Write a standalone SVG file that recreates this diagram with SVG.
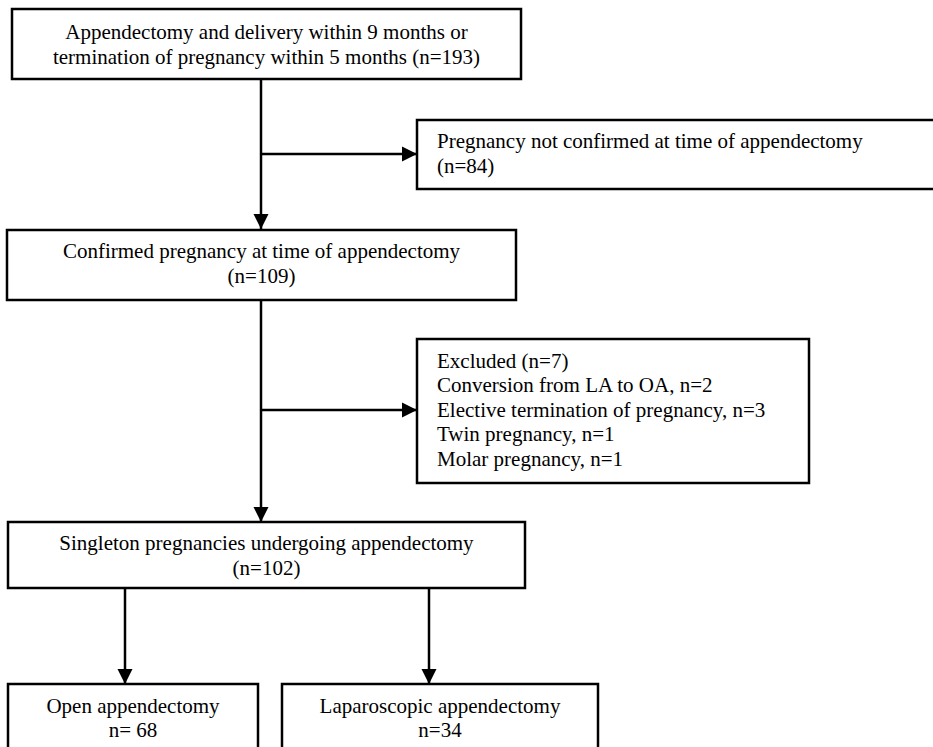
<svg xmlns="http://www.w3.org/2000/svg" width="933" height="747" viewBox="0 0 933 747">
<style>
.box{fill:#fff;stroke:#000;stroke-width:2.5}
.t{font-family:'Liberation Serif','Times New Roman','DejaVu Serif',serif;font-size:21px;fill:#000}
.c{text-anchor:middle}
.ln{stroke:#000;stroke-width:2.5;fill:none}
</style>
<defs>
<marker id="ah" markerUnits="userSpaceOnUse" markerWidth="16" markerHeight="16" refX="15" refY="8" orient="auto">
<path d="M0,0.5 L15,8 L0,15.5 z" fill="#000"/>
</marker>
</defs>
<g id="connectors">
<line class="ln" x1="261" y1="79" x2="261" y2="229" marker-end="url(#ah)"/>
<line class="ln" x1="261" y1="154" x2="417" y2="154" marker-end="url(#ah)"/>
<line class="ln" x1="261" y1="300" x2="261" y2="522" marker-end="url(#ah)"/>
<line class="ln" x1="261" y1="410" x2="417" y2="410" marker-end="url(#ah)"/>
<line class="ln" x1="125" y1="588" x2="125" y2="684" marker-end="url(#ah)"/>
<line class="ln" x1="429" y1="588" x2="429" y2="684" marker-end="url(#ah)"/>
</g>
<g id="n1">
<rect class="box" x="12" y="9" width="509" height="70" stroke-width="3"/>
<text class="t c" x="266.5" y="39" font-family="Liberation Serif, serif">Appendectomy and delivery within 9 months or</text>
<text class="t c" x="266.5" y="64" font-family="Liberation Serif, serif">termination of pregnancy within 5 months (n=193)</text>
</g>
<g id="n2">
<rect class="box" x="417" y="120" width="530" height="69"/>
<text class="t" x="437" y="148">Pregnancy not confirmed at time of appendectomy</text>
<text class="t" x="437" y="173">(n=84)</text>
</g>
<g id="n3">
<rect class="box" x="7" y="230" width="509" height="70"/>
<text class="t c" x="261.5" y="258">Confirmed pregnancy at time of appendectomy</text>
<text class="t c" x="261.5" y="283">(n=109)</text>
</g>
<g id="n4">
<rect class="box" x="417" y="339" width="392" height="144"/>
<text class="t" x="437" y="368">Excluded (n=7)</text>
<text class="t" x="437" y="392">Conversion from LA to OA, n=2</text>
<text class="t" x="437" y="417">Elective termination of pregnancy, n=3</text>
<text class="t" x="437" y="441">Twin pregnancy, n=1</text>
<text class="t" x="437" y="466">Molar pregnancy, n=1</text>
</g>
<g id="n5">
<rect class="box" x="8" y="522" width="517" height="66"/>
<text class="t c" x="266.5" y="550">Singleton pregnancies undergoing appendectomy</text>
<text class="t c" x="266.5" y="575">(n=102)</text>
</g>
<g id="n6">
<rect class="box" x="8" y="684" width="250" height="80"/>
<text class="t c" x="133" y="713">Open appendectomy</text>
<text class="t c" x="133" y="737">n= 68</text>
</g>
<g id="n7">
<rect class="box" x="282" y="684" width="316" height="80"/>
<text class="t c" x="440" y="713">Laparoscopic appendectomy</text>
<text class="t c" x="440" y="737">n=34</text>
</g>
</svg>
